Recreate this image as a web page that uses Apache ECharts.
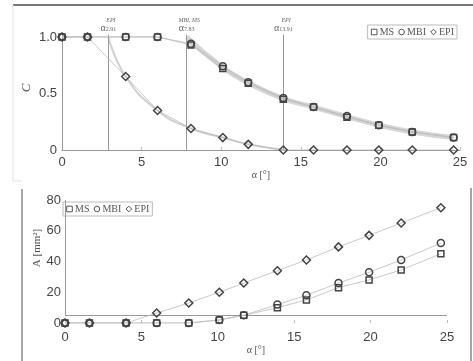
<!DOCTYPE html>
<html>
<head>
<meta charset="utf-8">
<script src="https://cdn.jsdelivr.net/npm/echarts@6/dist/echarts.min.js"></script>
<style>
html,body{margin:0;padding:0;background:#fff;}
#chart{width:473px;height:361px;}
</style>
</head>
<body>
<div id="chart"></div>
<script>
// ---- data ----
var alpha = [0, 1.6, 4, 6, 8.1, 10.1, 11.7, 13.9, 15.8, 17.9, 19.9, 22, 24.6];
var C_MS  = [1, 1, 1, 1, 0.93, 0.72, 0.59, 0.45, 0.38, 0.29, 0.22, 0.16, 0.11];
var C_MBI = [1, 1, 1, 1, 0.94, 0.74, 0.60, 0.46, 0.38, 0.30, 0.22, 0.16, 0.11];
var C_EPI = [1, 1, 0.65, 0.35, 0.19, 0.11, 0.05, 0, 0, 0, 0, 0, 0];
var fitAlphaMS = [7.83, 10.1, 11.7, 13.9, 15.8, 17.9, 19.9, 22, 24.6];
var fitC_MS    = [1, 0.73, 0.595, 0.455, 0.38, 0.295, 0.22, 0.16, 0.11];
var fitAlphaEPI = [2.91, 4, 6, 8.1, 10.1, 11.7, 13.91];
var fitC_EPI    = [1, 0.65, 0.35, 0.19, 0.11, 0.05, 0];
var A_MS  = [0, 0, 0, 0, 0, 2, 5, 10, 15, 23, 28, 34.5, 45];
var A_MBI = [0, 0, 0, 0, 0, 2, 5, 12, 18, 26, 33, 41, 52];
var A_EPI = [0, 0, 0, 6.5, 13, 20, 26, 34, 41, 49.5, 57, 65, 75];
var critAlpha = [2.91, 7.83, 13.91];
var critSup = ['EPI', 'MBI, MS', 'EPI'];
var critSub = ['2.91', '7.83', '13.91'];
var xTicks = ['0', '5', '10', '15', '20', '25'];
var topYTicks = {0: '0', 0.5: '0.5', 1: '1.0'};
var botYTicks = ['0', '20', '40', '60', '80'];
var legendNames = ['MS', 'MBI', 'EPI'];

function zip(xs, ys) { return xs.map(function (x, i) { return [x, ys[i]]; }); }

var markerStroke = '#444';
var connect = {color: '#bbb', width: 0.8};
var tickFont = {fontFamily: 'Liberation Sans', fontSize: 13, color: '#444'};

function ptSeries(name, xi, data, symbol, size, extra) {
  var s = {
    name: name, type: 'line', xAxisIndex: xi, yAxisIndex: xi,
    data: data, symbol: symbol, symbolSize: size, showSymbol: true,
    lineStyle: connect,
    itemStyle: {color: 'rgba(255,255,255,0)', borderColor: markerStroke, borderWidth: 1.5},
    z: 5
  };
  for (var k in extra) s[k] = extra[k];
  return s;
}

var critLines = critAlpha.map(function (a, i) {
  return [{
    coord: [a, 0],
    label: {
      show: true, position: 'end', distance: 2,
      formatter: '{sp|α}{sup|' + critSup[i] + '}\n{a|α}{sub|' + critSub[i] + '}',
      rich: {
        sp: {color: 'rgba(0,0,0,0)', fontSize: 10, fontFamily: 'Liberation Serif', lineHeight: 7},
        sup: {color: '#666', fontSize: 6, fontFamily: 'Liberation Serif', fontStyle: 'italic', lineHeight: 7},
        a: {color: '#666', fontSize: 10, fontFamily: 'Liberation Serif', lineHeight: 9},
        sub: {color: '#666', fontSize: 6, fontFamily: 'Liberation Serif', lineHeight: 9, verticalAlign: 'bottom'}
      }
    }
  }, {coord: [a, 1.02]}];
});

var topMarkLine = {
  silent: true, symbol: 'none', animation: false,
  lineStyle: {color: '#999', width: 1, type: 'solid'},
  label: {show: false},
  data: [[{coord: [0, 0]}, {coord: [0, 1.02]}]].concat(critLines)
};
var botMarkLine = {
  silent: true, symbol: 'none', animation: false,
  lineStyle: {color: '#999', width: 1, type: 'solid'},
  label: {show: false},
  data: [
    [{coord: [0, 5]}, {coord: [0, 80]}],
    [{coord: [0, 5]}, {coord: [25, 5]}]
  ]
};

var legendCommon = {
  orient: 'horizontal', itemWidth: 7, itemHeight: 7, itemGap: 4,
  padding: [2, 3], borderColor: '#bbb', borderWidth: 1,
  textStyle: {fontFamily: 'Liberation Serif', fontSize: 10, color: '#555', padding: [0, 0, 0, -3]},
  itemStyle: {color: 'rgba(255,255,255,0)', borderColor: '#555', borderWidth: 1},
  lineStyle: {width: 0},
  data: legendNames, selectedMode: false
};

var option = {
  animation: false,
  backgroundColor: '#fff',
  grid: [
    {left: 62, right: 13, top: 23.4, bottom: 211},
    {left: 65, right: 26, top: 200, bottom: 38}
  ],
  xAxis: [0, 1].map(function (i) {
    return {
      type: 'value', gridIndex: i, min: 0, max: 25, interval: 5,
      axisLine: {show: i === 0, lineStyle: {color: '#999', width: 1}},
      axisTick: {show: true, inside: true, length: 3, lineStyle: {color: '#bbb'}},
      splitLine: {show: false},
      axisLabel: Object.assign({margin: i === 0 ? 6 : 8, formatter: function (v) { return xTicks[Math.round(v / 5)]; }}, tickFont),
      name: 'α [°]', nameLocation: 'middle', nameGap: i === 0 ? 18 : 19,
      nameTextStyle: {fontFamily: 'Liberation Serif', fontSize: 10, color: '#555'}
    };
  }),
  yAxis: [
    {
      type: 'value', gridIndex: 0, min: 0, max: 1.12, interval: 0.5,
      axisLine: {show: false}, splitLine: {show: false},
      axisTick: {show: false},
      axisLabel: Object.assign({margin: 5, showMaxLabel: false, formatter: function (v) { return topYTicks[v] !== undefined ? topYTicks[v] : ''; }}, tickFont)
    },
    {
      type: 'value', gridIndex: 1, min: 0, max: 80, interval: 20,
      axisLine: {show: false}, splitLine: {show: false},
      axisTick: {show: false},
      axisLabel: Object.assign({margin: 4, formatter: function (v) { return botYTicks[Math.round(v / 20)]; }}, tickFont)
    }
  ],
  legend: [
    Object.assign({right: 16, top: 25}, legendCommon),
    Object.assign({left: 63, top: 202}, legendCommon)
  ],
  graphic: [
    {type: 'line', shape: {x1: 13, y1: 5, x2: 473, y2: 5}, style: {stroke: '#777', lineWidth: 2}},
    {type: 'line', shape: {x1: 13, y1: 5, x2: 13, y2: 181}, style: {stroke: '#e2e2e2', lineWidth: 1}},
    {type: 'line', shape: {x1: 13, y1: 181, x2: 22, y2: 181}, style: {stroke: '#e2e2e2', lineWidth: 1}},
    {type: 'line', shape: {x1: 22, y1: 189, x2: 22, y2: 361}, style: {stroke: '#888', lineWidth: 1.5}},
    {type: 'line', shape: {x1: 471, y1: 188, x2: 471, y2: 361}, style: {stroke: '#888', lineWidth: 1.5}},
    {type: 'text', x: 27, y: 88, rotation: Math.PI / 2,
      style: {text: 'C', fontFamily: 'Liberation Serif', fontStyle: 'italic', fontSize: 13, fill: '#555', textAlign: 'center', textVerticalAlign: 'middle'}},
    {type: 'text', x: 37, y: 248, rotation: Math.PI / 2,
      style: {text: 'A [mm²]', fontFamily: 'Liberation Serif', fontSize: 11, fill: '#555', textAlign: 'center', textVerticalAlign: 'middle'}}
  ],
  series: [
    {name: 'fitMS', type: 'line', xAxisIndex: 0, yAxisIndex: 0, data: zip(fitAlphaMS, fitC_MS),
      smooth: true, symbol: 'none', lineStyle: {color: '#d6d6d6', width: 5}, z: 1, silent: true},
    {name: 'fitEPI', type: 'line', xAxisIndex: 0, yAxisIndex: 0, data: zip(fitAlphaEPI, fitC_EPI),
      smooth: true, symbol: 'none', lineStyle: {color: '#d0d0d0', width: 2}, z: 1, silent: true},
    ptSeries('MS', 0, zip(alpha, C_MS), 'rect', 6, {markLine: topMarkLine}),
    ptSeries('MBI', 0, zip(alpha, C_MBI), 'circle', 7, {}),
    ptSeries('EPI', 0, zip(alpha, C_EPI), 'diamond', 8, {}),
    ptSeries('MS', 1, zip(alpha, A_MS), 'rect', 6, {markLine: botMarkLine}),
    ptSeries('MBI', 1, zip(alpha, A_MBI), 'circle', 7, {}),
    ptSeries('EPI', 1, zip(alpha, A_EPI), 'diamond', 8, {})
  ]
};

var chart = echarts.init(document.getElementById('chart'), null, {renderer: 'canvas'});
chart.setOption(option);
</script>
</body>
</html>
